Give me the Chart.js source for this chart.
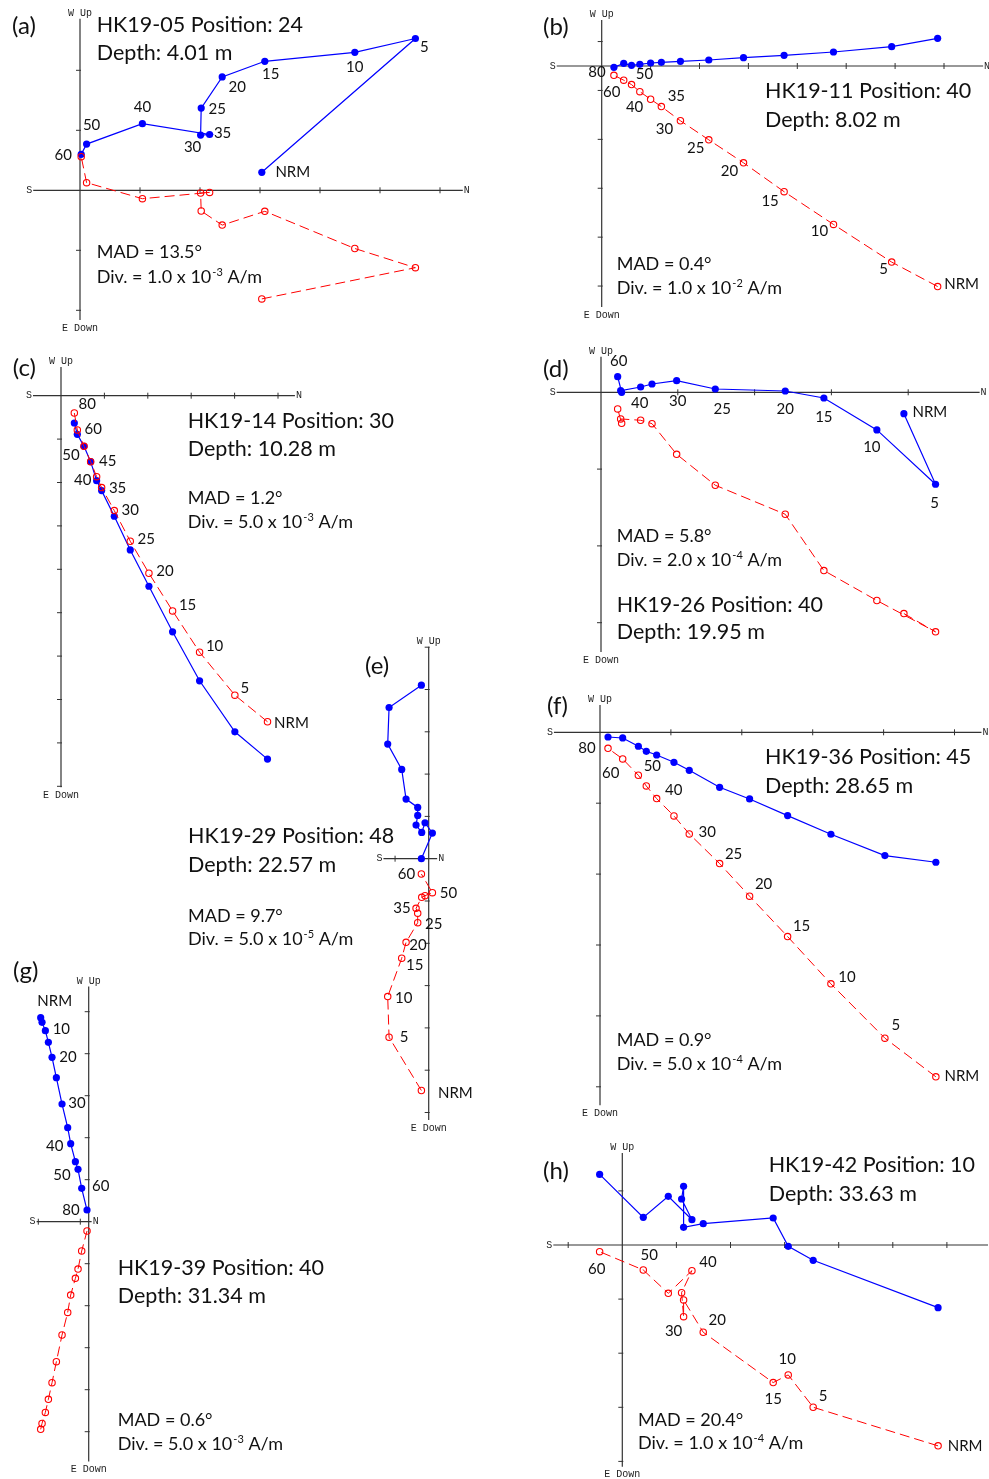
<!DOCTYPE html>
<html>
<head>
<meta charset="utf-8">
<script src="https://cdn.jsdelivr.net/npm/chart.js@4.4.1/dist/chart.umd.min.js"></script>
<style>
  html, body { margin:0; padding:0; background:#ffffff; }
  #wrap { position:relative; width:989px; height:1479px; }
  canvas { display:block; }
</style>
</head>
<body>
<div id="wrap"><canvas id="c" width="989" height="1479"></canvas></div>
<script>
// ---------------- DATA (in divisions of each panel) ----------------
// Panel (a) HK19-05
const stepsA = ['NRM','5','10','15','20','25','30','35','40','50','60'];
const northA = [3.03,5.59,4.58,3.08,2.37,2.02,2.01,2.16,1.04,0.11,0.02];
const westA  = [0.30,2.53,2.30,2.15,1.89,1.37,0.92,0.93,1.11,0.77,0.60];
const upA    = [-1.81,-1.29,-0.97,-0.35,-0.58,-0.345,-0.045,-0.035,-0.14,0.127,0.56];
const shownA = ['NRM','5','10','15','20','25','30','35','40','50','60'];
const titleA = ['HK19-05 Position: 24','Depth: 4.01 m'];
const madA = 'MAD = 13.5°'; const divA = ['1.0','-3'];

// Panel (b) HK19-11
const stepsB = ['NRM','5','10','15','20','25','30','35','40','45','50','60','80'];
const northB = [6.87,5.93,4.74,3.73,2.90,2.19,1.61,1.22,1.00,0.78,0.61,0.45,0.25];
const westB  = [0.566,0.395,0.286,0.218,0.170,0.123,0.095,0.075,0.061,0.034,0.014,0.055,-0.027];
const upB    = [-4.51,-4.01,-3.24,-2.57,-1.98,-1.51,-1.12,-0.83,-0.68,-0.525,-0.38,-0.29,-0.19];
const shownB = ['NRM','5','10','15','20','25','30','35','40','','50','60','80'];
const titleB = ['HK19-11 Position: 40','Depth: 8.02 m'];
const madB = 'MAD = 0.4°'; const divB = ['1.0','-2'];

// Panel (c) HK19-14
const stepsC = ['NRM','5','10','15','20','25','30','35','40','45','50','60','80'];
const northC = [4.758,4.006,3.193,2.571,2.026,1.596,1.228,0.936,0.821,0.683,0.530,0.376,0.307];
const westC  = [-8.373,-7.744,-6.569,-5.441,-4.390,-3.553,-2.778,-2.187,-1.957,-1.520,-1.167,-0.890,-0.629];
const upC    = [-7.513,-6.900,-5.909,-4.958,-4.091,-3.354,-2.648,-2.118,-1.865,-1.520,-1.167,-0.790,-0.399];
const shownC = ['NRM','5','10','15','20','25','30','35','40','45','50','60','80'];
const titleC = ['HK19-14 Position: 30','Depth: 10.28 m'];
const madC = 'MAD = 1.2°'; const divC = ['5.0','-3'];

// Panel (d) HK19-26
const stepsD = ['NRM','5','10','15','20','25','30','35','40','45','50','60'];
const northD = [3.944,4.356,3.592,2.902,2.399,1.488,0.985,0.664,0.516,0.256,0.269,0.217];
const westD  = [-0.278,-1.197,-0.490,-0.074,0.017,0.043,0.152,0.108,0.069,0.022,0.0,0.204];
const upD    = [-2.881,-3.119,-2.711,-2.321,-1.588,-1.210,-0.807,-0.408,-0.364,-0.347,-0.403,-0.217];
const shownD = ['NRM','5','10','15','20','25','30','','40','','','60'];
const titleD = ['HK19-26 Position: 40','Depth: 19.95 m'];
const madD = 'MAD = 5.8°'; const divD = ['2.0','-4'];

// Panel (e) HK19-29
const stepsE = ['NRM','5','10','15','20','25','30','35','40','45','50','60'];
const northE = [-0.173,-0.937,-0.969,-0.638,-0.535,-0.260,-0.260,-0.299,-0.165,-0.087,0.087,-0.173];
const westE  = [4.102,3.575,2.709,2.110,1.409,1.213,1.024,0.795,0.622,0.850,0.606,0.0];
const upE    = [-5.480,-4.220,-3.260,-2.354,-1.976,-1.512,-1.291,-1.173,-0.913,-0.874,-0.803,-0.362];
const shownE = ['NRM','5','10','15','20','25','','35','','','50','60'];
const titleE = ['HK19-29 Position: 48','Depth: 22.57 m'];
const madE = 'MAD = 9.7°'; const divE = ['5.0','-5'];

// Panel (f) HK19-36
const stepsF = ['NRM','5','10','15','20','25','30','35','40','45','50','60','80'];
const northF = [4.737,4.018,3.257,2.646,2.110,1.687,1.259,1.043,0.799,0.653,0.541,0.320,0.113];
const westF  = [-1.833,-1.739,-1.438,-1.175,-0.940,-0.776,-0.536,-0.423,-0.320,-0.268,-0.197,-0.080,-0.066];
const upF    = [-4.859,-4.314,-3.548,-2.881,-2.312,-1.852,-1.433,-1.180,-0.935,-0.757,-0.606,-0.376,-0.226];
const shownF = ['NRM','5','10','15','20','25','30','','40','','50','60','80'];
const titleF = ['HK19-36 Position: 45','Depth: 28.65 m'];
const madF = 'MAD = 0.9°'; const divF = ['5.0','-4'];

// Panel (g) HK19-39
const stepsG = ['NRM','5','10','15','20','25','30','35','40','45','50','60','80'];
const northG = [-1.143,-1.111,-1.032,-0.960,-0.873,-0.770,-0.635,-0.500,-0.429,-0.317,-0.254,-0.167,-0.040];
const westG  = [4.857,4.746,4.548,4.270,3.913,3.429,2.802,2.238,1.857,1.429,1.246,0.794,0.278];
const upG    = [-4.944,-4.802,-4.540,-4.230,-3.833,-3.333,-2.698,-2.159,-1.746,-1.349,-1.127,-0.698,-0.222];
const shownG = ['NRM','','10','','20','','30','','40','','50','60','80'];
const titleG = ['HK19-39 Position: 40','Depth: 31.34 m'];
const madG = 'MAD = 0.6°'; const divG = ['5.0','-3'];

// Panel (h) HK19-42
const stepsH = ['NRM','5','10','15','20','25','30','35','40','45','50','60'];
const northH = [5.837,3.528,3.067,2.789,1.496,1.133,1.133,1.096,1.287,0.850,0.388,-0.419];
const westH  = [-1.158,-0.283,-0.025,0.499,0.394,0.326,1.084,0.850,0.468,0.899,0.511,1.305];
const upH    = [-3.713,-2.999,-2.401,-2.543,-1.613,-1.016,-1.324,-0.881,-0.474,-0.893,-0.462,-0.123];
const shownH = ['NRM','5','10','15','20','','30','','40','','50','60'];
const titleH = ['HK19-42 Position: 10','Depth: 33.63 m'];
const madH = 'MAD = 20.4°'; const divH = ['1.0','-4'];

// ---------------- LAYOUT (pixels / styles) ----------------
const W = 989, H = 1479;
const panels = [
  { id:'a', letter:'(a)', steps:stepsA, north:northA, west:westA, up:upA, shown:shownA, title:titleA, mad:madA, div:divA,
    ox:80, oy:190.3, d:60, xAxis:[-0.78,6.38], yAxis:[-2.16,2.86], xPhase:0, yPhase:0, labelOn:'blue',
    off:[[31,0],[9,9],[0,15],[6,13],[15,10],[16,1],[-8,12],[13,-1],[0,-17],[5,-19],[-18,1]],
    letterPos:[12,34], titlePos:[96.7,31.7,60], madPos:[96.7,258.3,282.7] },
  { id:'b', letter:'(b)', steps:stepsB, north:northB, west:westB, up:upB, shown:shownB, title:titleB, mad:madB, div:divB,
    ox:601.7, oy:66, d:48.9, xAxis:[-0.92,7.80], yAxis:[-4.93,0.94], xPhase:0, yPhase:0.5, labelOn:'red',
    off:[[24,-2],[-8,7],[-14,7],[-14,9],[-14,8],[-13,8],[-16,8],[15,-10],[-16,8],[0,0],[13,-10],[-12,12],[-17,-3]],
    letterPos:[543,35], titlePos:[765,98.3,126.7], madPos:[616.7,270,294] },
  { id:'c', letter:'(c)', steps:stepsC, north:northC, west:westC, up:upC, shown:shownC, title:titleC, mad:madC, div:divC,
    ox:61, oy:395.7, d:43.4, xAxis:[-0.645,5.39], yAxis:[-9.02,0.66], xPhase:0, yPhase:0, labelOn:'red',
    off:[[24,1],[10,-7],[15,-6],[15,-6],[16,-2],[16,-2],[16,0],[16,1],[-14,4],[17,-1],[-13,9],[16,-1],[13,-9]],
    letterPos:[12.7,376], titlePos:[187.7,427.7,455.7], madPos:[187.7,504.3,527.7] },
  { id:'d', letter:'(d)', steps:stepsD, north:northD, west:westD, up:upD, shown:shownD, title:titleD, mad:madD, div:divD,
    ox:601, oy:392.3, d:76.8, xAxis:[-0.577,4.93], yAxis:[-3.38,0.464], xPhase:0, yPhase:0, labelOn:'blue',
    off:[[26,-1],[-1,19],[-5,17],[0,19],[0,18],[7,20],[1,21],[0,0],[-1,16],[0,0],[0,0],[1,-15]],
    letterPos:[543,377], titlePos:[616.7,611.7,639.3], madPos:[616.7,541.7,566] },
  { id:'e', letter:'(e)', steps:stepsE, north:northE, west:westE, up:upE, shown:shownE, title:titleE, mad:madE, div:divE,
    ox:428.7, oy:858.7, d:42.3, xAxis:[-1.07,0.20], yAxis:[-6.18,5.01], xPhase:0.205, yPhase:0, labelOn:'red',
    off:[[34,3],[15,0],[16,2],[13,7],[12,3],[16,1],[0,0],[-14,0],[0,0],[0,0],[16,0],[-15,0]],
    letterPos:[365,674], titlePos:[188,843.3,871.7], madPos:[188,921.7,945] },
  { id:'f', letter:'(f)', steps:stepsF, north:northF, west:westF, up:upF, shown:shownF, title:titleF, mad:madF, div:divF,
    ox:600, oy:732.3, d:70.9, xAxis:[-0.65,5.38], yAxis:[-5.26,0.385], xPhase:0, yPhase:0, labelOn:'red',
    off:[[26,-1],[11,-13],[16,-7],[14,-10],[14,-12],[14,-9],[18,-2],[0,0],[17,-8],[0,0],[14,-9],[-12,14],[-21,0]],
    letterPos:[547,714], titlePos:[765,764,792.7], madPos:[616.7,1046,1070] },
  { id:'g', letter:'(g)', steps:stepsG, north:northG, west:westG, up:upG, shown:shownG, title:titleG, mad:madG, div:divG,
    ox:88.7, oy:1221.7, d:42, xAxis:[-1.24,0.07], yAxis:[-5.71,5.6], xPhase:-0.2, yPhase:0, labelOn:'blue',
    off:[[14,-17],[0,0],[16,-2],[0,0],[16,0],[0,0],[15,-1],[0,0],[-16,2],[0,0],[-16,6],[19,-2],[-16,0]],
    letterPos:[13,979], titlePos:[117.7,1275,1303.3], madPos:[117.7,1426,1450] },
  { id:'h', letter:'(h)', steps:stepsH, north:northH, west:westH, up:upH, shown:shownH, title:titleH, mad:madH, div:divH,
    ox:622.3, oy:1245, d:54.1, xAxis:[-1.275,6.76], yAxis:[-4.10,1.70], xPhase:0, yPhase:0, labelOn:'red',
    off:[[27,0],[10,-11],[-1,-16],[0,17],[14,-12],[0,0],[-10,15],[0,0],[16,-8],[0,0],[6,-15],[-3,18]],
    letterPos:[543,1179], titlePos:[768.7,1171.7,1200.7], madPos:[638,1426,1449.3] }
];

const BLUE = '#0000ff', RED = '#ff0000', AXIS = '#333333', TXT = '#111111';
const FONT = 'Lato, "Open Sans", sans-serif';

// ---------------- CHART ----------------
const scales = {
  x: { type:'linear', display:false, min:0, max:1 },
  y: { type:'linear', display:false, min:0, max:1 }
};
const datasets = [];
panels.forEach(p => {
  scales['x' + p.id] = { type:'linear', axis:'x', position:'bottom', display:false,
    min: -p.ox / p.d, max: (W - p.ox) / p.d };
  scales['y' + p.id] = { type:'linear', axis:'y', position:'left', display:false,
    min: (p.oy - H) / p.d, max: p.oy / p.d };
  datasets.push({
    label: p.id + ' vertical', xAxisID:'x' + p.id, yAxisID:'y' + p.id,
    data: p.north.map((n, i) => ({ x:n, y:p.up[i] })),
    showLine:true, borderColor:RED, borderWidth:1, borderDash:[10,5],
    pointRadius:3.2, pointBorderWidth:1.1, pointBorderColor:RED,
    pointBackgroundColor:'rgba(0,0,0,0)', order:1
  });
  datasets.push({
    label: p.id + ' horizontal', xAxisID:'x' + p.id, yAxisID:'y' + p.id,
    data: p.north.map((n, i) => ({ x:n, y:p.west[i] })),
    showLine:true, borderColor:BLUE, borderWidth:1.2,
    pointRadius:3.6, pointBorderWidth:0, pointBackgroundColor:BLUE, order:2
  });
});

function drawDiv(ctx, x, y, mant, exp) {
  ctx.font = '18px ' + FONT;
  const s1 = 'Div. = ' + mant + ' x 10';
  ctx.fillText(s1, x, y);
  let w = ctx.measureText(s1).width;
  ctx.font = '11px ' + FONT;
  ctx.fillText(exp, x + w + 1, y - 7);
  const we = ctx.measureText(exp).width;
  ctx.font = '18px ' + FONT;
  ctx.fillText(' A/m', x + w + 1 + we, y);
}

const zijPlugin = {
  id:'zij',
  beforeDatasetsDraw(chart) {
    const ctx = chart.ctx;
    ctx.save();
    panels.forEach(p => {
      const xs = chart.scales['x' + p.id], ys = chart.scales['y' + p.id];
      const px0 = xs.getPixelForValue(0), py0 = ys.getPixelForValue(0);
      const xl = xs.getPixelForValue(p.xAxis[0]), xr = xs.getPixelForValue(p.xAxis[1]);
      const yt = ys.getPixelForValue(p.yAxis[1]), yb = ys.getPixelForValue(p.yAxis[0]);
      ctx.strokeStyle = AXIS; ctx.lineWidth = 1.2; ctx.setLineDash([]);
      ctx.beginPath();
      ctx.moveTo(xl, py0); ctx.lineTo(xr, py0);
      ctx.moveTo(px0, yt); ctx.lineTo(px0, yb);
      ctx.stroke();
      ctx.lineWidth = 1;
      ctx.beginPath();
      for (let k = Math.ceil(p.xAxis[0] - p.xPhase); k <= Math.floor(p.xAxis[1] - p.xPhase); k++) {
        const v = p.xPhase + k; if (Math.abs(v) < 0.02) continue;
        const px = xs.getPixelForValue(v);
        ctx.moveTo(px, py0 - 3); ctx.lineTo(px, py0 + 3);
      }
      for (let k = Math.ceil(p.yAxis[0] - p.yPhase); k <= Math.floor(p.yAxis[1] - p.yPhase); k++) {
        const v = p.yPhase + k; if (Math.abs(v) < 0.02) continue;
        const py = ys.getPixelForValue(v);
        ctx.moveTo(px0 - 4, py); ctx.lineTo(px0 + 1, py);
      }
      ctx.stroke();
      // axis direction labels
      ctx.fillStyle = '#222222';
      ctx.font = '10px "Liberation Mono", "DejaVu Sans Mono", monospace';
      ctx.textBaseline = 'middle';
      ctx.textAlign = 'right'; ctx.fillText('S', xl - 1, py0);
      ctx.textAlign = 'left'; ctx.fillText('N', xr + 1, py0);
      ctx.textAlign = 'center';
      ctx.textBaseline = 'alphabetic'; ctx.fillText('W Up', px0, yt - 3);
      ctx.textBaseline = 'top'; ctx.fillText('E Down', px0, yb + 3);
    });
    ctx.restore();
  },
  afterDatasetsDraw(chart) {
    const ctx = chart.ctx;
    ctx.save();
    panels.forEach(p => {
      const xs = chart.scales['x' + p.id], ys = chart.scales['y' + p.id];
      // step labels
      ctx.fillStyle = TXT;
      ctx.font = '15px ' + FONT;
      ctx.textAlign = 'center'; ctx.textBaseline = 'middle';
      p.shown.forEach((t, i) => {
        if (!t) return;
        const yv = p.labelOn === 'blue' ? p.west[i] : p.up[i];
        const px = xs.getPixelForValue(p.north[i]) + p.off[i][0];
        const py = ys.getPixelForValue(yv) + p.off[i][1];
        ctx.fillText(t, px, py);
      });
      // panel letter, titles, stats
      ctx.textAlign = 'left'; ctx.textBaseline = 'alphabetic';
      ctx.font = '24px ' + FONT;
      ctx.fillText(p.letter, p.letterPos[0], p.letterPos[1]);
      ctx.font = '21.5px ' + FONT;
      ctx.fillText(p.title[0], p.titlePos[0], p.titlePos[1]);
      ctx.fillText(p.title[1], p.titlePos[0], p.titlePos[2]);
      ctx.font = '18px ' + FONT;
      ctx.fillText(p.mad, p.madPos[0], p.madPos[1]);
      drawDiv(ctx, p.madPos[0], p.madPos[2], p.div[0], p.div[1]);
    });
    ctx.restore();
  }
};

new Chart(document.getElementById('c').getContext('2d'), {
  type:'scatter',
  data:{ datasets },
  options:{
    responsive:false, animation:false, devicePixelRatio:1,
    layout:{ padding:0, autoPadding:false },
    plugins:{ legend:{ display:false }, tooltip:{ enabled:false }, title:{ display:false } },
    scales
  },
  plugins:[zijPlugin]
});
</script>
</body>
</html>
